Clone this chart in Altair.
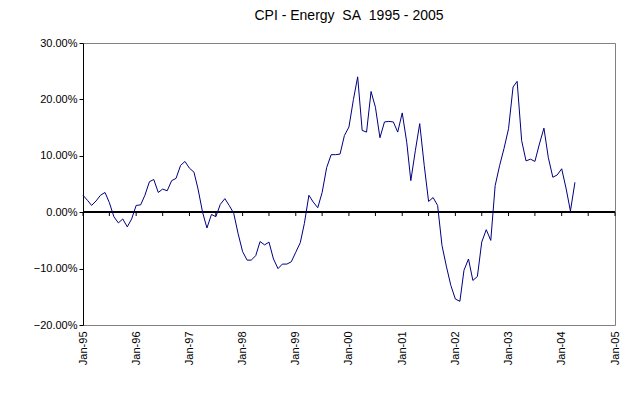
import altair as alt
import pandas as pd

values = [3.0, 2.1, 1.2, 2.0, 3.0, 3.5, 1.7, -0.8, -1.9, -1.2, -2.6, -1.2,
          1.2, 1.3, 3.0, 5.4, 5.8, 3.5, 4.1, 3.8, 5.6, 6.0, 8.3, 9.0,
          7.8, 7.1, 4.1, 0.0, -2.8, -0.4, -0.8, 1.4, 2.4, 1.2, -0.2, -3.8,
          -7.0, -8.5, -8.5, -7.7, -5.2, -5.8, -5.3, -8.3, -10.0, -9.2, -9.2, -8.8,
          -7.1, -5.4, -2.0, 3.0, 1.8, 0.8, 3.5, 7.9, 10.2, 10.2, 10.3,
          13.6, 15.1, 20.0, 24.0, 14.5, 14.2, 21.4, 18.6, 13.2, 16.0, 16.1, 16.0,
          14.2, 17.6, 12.4, 5.6, 10.9, 15.7, 8.3, 1.9, 2.6, 1.2, -5.9, -9.7,
          -13.0, -15.4, -15.8, -10.3, -8.3, -12.1, -11.4, -5.3, -3.1, -5.0, 4.7, 8.3,
          11.3, 14.8, 22.2, 23.2, 12.7, 9.1, 9.4, 9.0, 12.1, 14.9, 9.7, 6.2,
          6.6, 7.7, 4.1, 0.2, 5.3]
dates = pd.date_range("1995-01-01", periods=len(values), freq="MS")
df = pd.DataFrame({"date": dates, "v": values})

tick_dates = pd.date_range("1995-01-01", "2005-01-01", freq="6MS")
ticks = pd.DataFrame({"date": tick_dates, "v": [0.0] * len(tick_dates)})

font = "Liberation Sans"
xscale = alt.Scale(domain=["1995-01-01", "2005-01-01"])
yscale = alt.Scale(domain=[-20, 30])

line = alt.Chart(df).mark_line(color="#000080", strokeWidth=1).encode(
    x=alt.X("date:T", scale=xscale, title=None,
            axis=alt.Axis(values=[d.isoformat() for d in tick_dates.to_pydatetime()],
                          format="%b-%y", labelAngle=-90, ticks=False, domain=False,
                          grid=False, labelFont=font, labelFontSize=11, labelColor="black",
                          labelPadding=6)),
    y=alt.Y("v:Q", scale=yscale, title=None,
            axis=alt.Axis(values=list(range(-20, 31, 5)),
                          labelExpr="format(datum.value, '.2f') + '%'",
                          grid=False, domainColor="black", tickColor="black",
                          tickSize=4, labelFont=font, labelFontSize=11,
                          labelColor="black")),
)
zero = alt.Chart(ticks).mark_rule(color="black").encode(
    x=alt.value(0), x2=alt.value(532), y=alt.Y("v:Q", scale=yscale))
tk = alt.Chart(ticks).mark_rule(color="black").encode(
    x=alt.X("date:T", scale=xscale),
    y=alt.Y("v:Q", scale=yscale), y2=alt.value(173))

chart = (zero + tk + line).properties(
    width=532, height=282,
    title=alt.TitleParams("CPI - Energy\u00a0\u00a0SA\u00a0\u00a01995 - 2005", font=font,
                          fontSize=14, fontWeight="normal", color="black", offset=14),
    autosize=alt.AutoSizeParams(type="none"),
    padding={"left": 75, "top": 35, "right": 8, "bottom": 70},
    background="white",
).configure_view(stroke="#808080", strokeWidth=1)

chart.save("out.html", embed_options={"renderer": "svg", "actions": False})
